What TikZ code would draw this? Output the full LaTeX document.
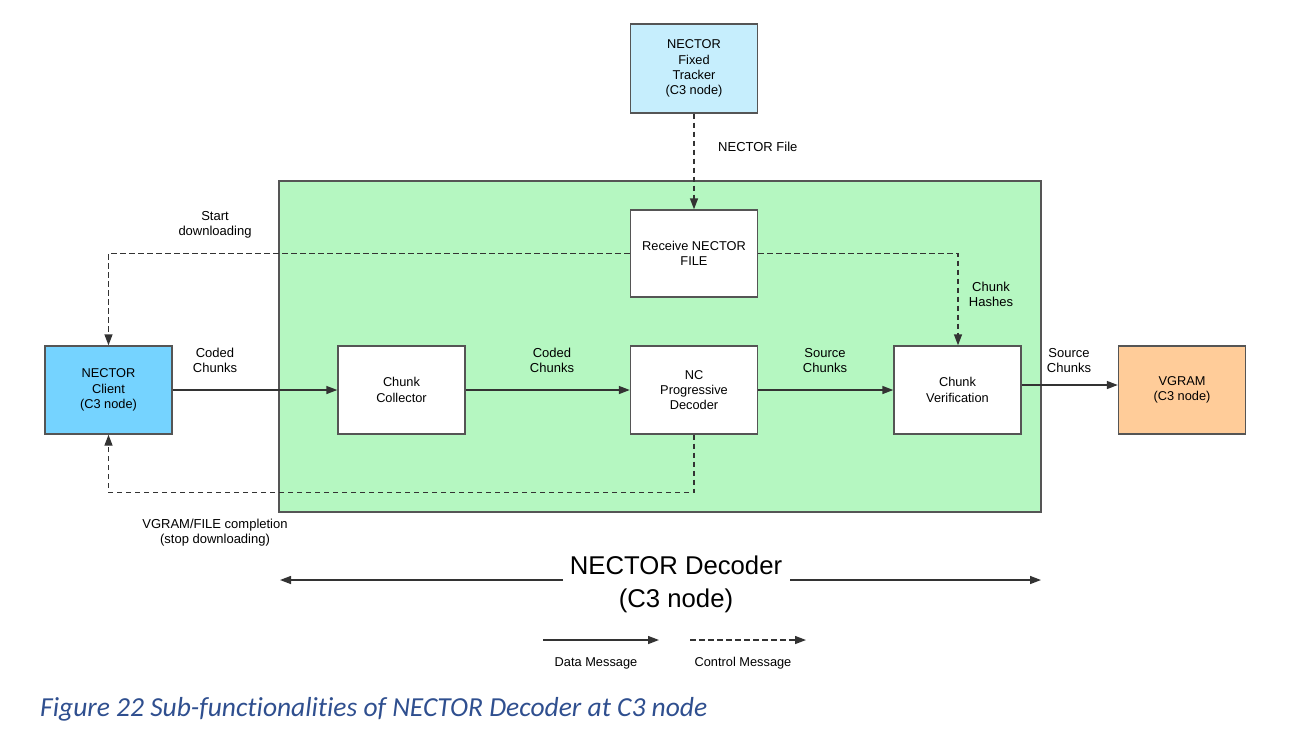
\documentclass[tikz,border=0pt]{standalone}
\usepackage{fontspec}
\setmainfont{Liberation Sans}
\newfontfamily\capfont[Ligatures=NoCommon]{Carlito}
\usetikzlibrary{arrows.meta}
\definecolor{clientblue}{HTML}{75D3FF}
\definecolor{trackerblue}{HTML}{C6EEFD}
\definecolor{decgreen}{HTML}{B5F7C1}
\definecolor{vgramorange}{HTML}{FFCC99}
\definecolor{edgegray}{HTML}{555555}
\definecolor{linegray}{HTML}{333333}
\definecolor{capblue}{HTML}{2F4F8F}
\tikzset{
  box/.style={draw=edgegray, line width=1.4pt, rectangle, minimum width=127pt, minimum height=88pt,
    align=center, font=\fontsize{12.8}{15.2}\selectfont, inner sep=0pt},
  lbl/.style={align=center, font=\fontsize{13}{15.2}\selectfont, inner sep=0pt},
  datamsg/.style={draw=linegray, line width=1.4pt, -{Triangle[length=11pt,width=8pt]}},
  ctrlmsg/.style={draw=linegray, line width=1.4pt, dash pattern=on 5.5pt off 3.5pt, -{Triangle[length=11pt,width=8pt]}},
}
\begin{document}
\begin{tikzpicture}[x=1pt,y=-1pt]
\useasboundingbox (0,0) rectangle (1295,732);
% decoder area
\node[draw=edgegray, line width=1.4pt, fill=decgreen, minimum width=762pt, minimum height=331pt, inner sep=0pt] (area) at (660,346.5) {};
% boxes
\node[box, fill=trackerblue, minimum height=89pt] (tracker) at (694,68.5) {NECTOR\\Fixed\\Tracker\\(C3 node)};
\node[box, fill=white, minimum height=87pt] (recv) at (694,253.5) {Receive NECTOR\\FILE};
\node[box, fill=clientblue] (client) at (108.5,390) {NECTOR\\Client\\(C3 node)};
\node[box, fill=white] (coll) at (401.5,390) {Chunk\\Collector};
\node[box, fill=white] (dec) at (694,390) {NC\\Progressive\\Decoder};
\node[box, fill=white] (verif) at (957.5,390) {Chunk\\Verification};
\node[box, fill=vgramorange] (vgram) at (1182,390) {VGRAM\\(C3 node)};
% corner coordinates
\coordinate (tl) at (108.5,253.5);
\coordinate (tr) at (958,253.5);
\coordinate (bl) at (108.5,492.7);
\coordinate (br) at (694,492.7);
% data messages
\draw[datamsg] (client) -- (coll);
\draw[datamsg] (coll) -- (dec);
\draw[datamsg] (dec) -- (verif);
\draw[datamsg] (verif.east |- 0,385) -- (vgram.west |- 0,385);
% control messages
\draw[ctrlmsg] (tracker) -- (recv);
\draw[ctrlmsg] (recv.west) -- (tl) -- (client.north);
\draw[ctrlmsg] (recv.east) -- (tr) -- (verif.north -| tr);
\draw[ctrlmsg] (dec.south) -- (br) -- (bl) -- (client.south);
% labels
\node[lbl, anchor=west] (lnf) at (718,147) {NECTOR File};
\node[lbl] (lstart) at (215,224.5) {Start\\downloading};
\node[lbl] (lcc1) at (215,360.5) {Coded\\Chunks};
\node[lbl] (lcc2) at (552,360.5) {Coded\\Chunks};
\node[lbl] (lsc1) at (825,360.5) {Source\\Chunks};
\node[lbl] (lsc2) at (1069,360.5) {Source\\Chunks};
\node[lbl] (lch) at (991,294.5) {Chunk\\Hashes};
\node[lbl] (lstop) at (215,532.5) {VGRAM/FILE completion\\(stop downloading)};
% span arrow
\node[align=center, font=\fontsize{25.7}{33}\selectfont, inner sep=0pt] (title) at (676,584) {NECTOR Decoder\\(C3 node)};
\coordinate (spanl) at (280,580);
\coordinate (spanr) at (1041,580);
\coordinate (gapl) at (563,580);
\coordinate (gapr) at (790,580);
\draw[datamsg] (gapl) -- (spanl);
\draw[datamsg] (gapr) -- (spanr);
% legend
\coordinate (d1) at (543,640);
\coordinate (d2) at (659,640);
\coordinate (c1) at (690,640);
\coordinate (c2) at (806,640);
\draw[datamsg] (d1) -- (d2);
\draw[ctrlmsg] (c1) -- (c2);
\node[font=\fontsize{12.8}{15}\selectfont, inner sep=0pt] (ldata) at (596,663) {Data Message};
\node[font=\fontsize{12.8}{15}\selectfont, inner sep=0pt] (lctrl) at (743,663) {Control Message};
% caption
\node[anchor=west, inner sep=0pt, text=capblue, font=\capfont\itshape\fontsize{27.5}{32}\selectfont] (cap) at (40,709) {Figure 22 Sub-functionalities of NECTOR Decoder at C3 node};
\end{tikzpicture}
\end{document}
